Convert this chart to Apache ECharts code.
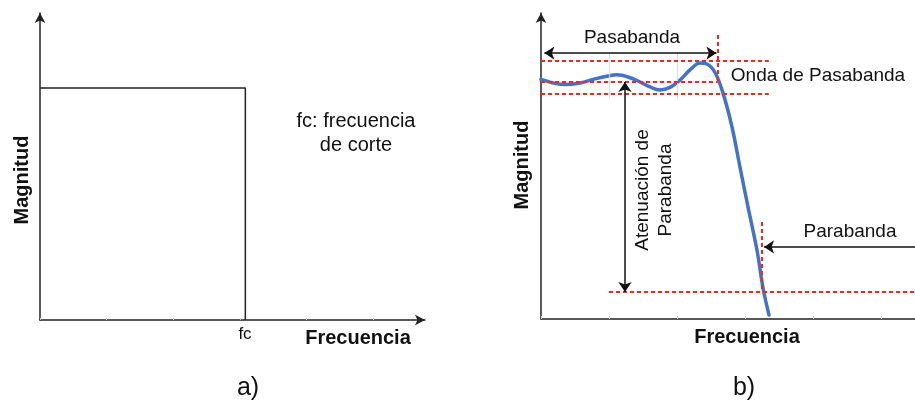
<!DOCTYPE html>
<html>
<head>
<meta charset="utf-8">
<script src="https://cdn.jsdelivr.net/npm/echarts@6/dist/echarts.min.js"></script>
<style>
html,body{margin:0;padding:0;background:#fff;}
#chart{width:915px;height:404px;}
</style>
</head>
<body>
<div id="chart"></div>
<script>
// ---- Panel a) ideal low-pass filter ----
const idealFreq = [0, 3.08, 3.08];
const idealMag  = [1, 1, 0];

// ---- Panel b) real low-pass filter response ----
const realFreq = [0, 0.206, 0.353, 0.574, 0.794, 0.985, 1.118, 1.279, 1.456, 1.603, 1.750, 1.897, 2.044, 2.191, 2.338, 2.44, 2.559, 2.676, 2.809, 2.926, 3.044, 3.176, 3.265, 3.353];
const realMag  = [1.011, 0.994, 0.989, 0.996, 1.013, 1.025, 1.030, 1.021, 1.000, 0.979, 0.966, 0.977, 1.008, 1.051, 1.080, 1.076, 1.040, 0.954, 0.810, 0.641, 0.473, 0.291, 0.131, 0.017];

// reference levels / edges (data units)
const rippleTop = 1.089, rippleMid = 1.0, rippleBottom = 0.949;
const stopLevel = 0.114;
const passEdge = 2.60, stopEdge = 3.25;
const rippleEnd = 3.35, stopLineStart = 1.0;
const passArrowY = 1.122, stopArrowY = 0.304, attenX = 1.235;
const faintGridX = [1, 2];

const chart = echarts.init(document.getElementById('chart'));
const red = '#ff1f1f';
const dashed = {color: red, width: 2, type: [4, 3]};
const black = {color: '#111', width: 1.5, type: 'solid'};
const axisLineStyle = {color: '#222', width: 1.5};

function seg(x1, y1, x2, y2, style, s1, s2) {
  return [
    {coord: [x1, y1], symbol: s1 || 'none', symbolSize: 10, lineStyle: style},
    {coord: [x2, y2], symbol: s2 || 'none', symbolSize: 10}
  ];
}

const font = 'Liberation Sans, Arial, sans-serif';
function txt(x, y, text, size, bold, rot) {
  return {
    type: 'text', x: x, y: y, rotation: rot || 0, silent: true,
    style: {
      text: text, fill: '#111',
      font: (bold ? 'bold ' : '') + size + 'px ' + font,
      textAlign: 'center', textVerticalAlign: 'middle', lineHeight: size + 4
    }
  };
}

const option = {
  animation: false,
  backgroundColor: '#fff',
  grid: [
    {left: 40, top: 13, width: 385, height: 307, containLabel: false},
    {left: 541, top: 13, right: 0, height: 306, containLabel: false}
  ],
  xAxis: [
    {gridIndex: 0, type: 'value', min: 0, max: 5.775, interval: 1,
     axisLine: {show: true, lineStyle: axisLineStyle, symbol: ['none', 'arrow'], symbolSize: [8, 10]},
     axisTick: {show: true, inside: true, length: 2, lineStyle: {color: '#ccc'}},
     axisLabel: {show: false}, splitLine: {show: false}},
    {gridIndex: 1, type: 'value', min: 0, max: 5.5, interval: 1,
     axisLine: {show: true, lineStyle: axisLineStyle},
     axisTick: {show: true, inside: true, length: 3, lineStyle: {color: '#ccc'}},
     axisLabel: {show: false}, splitLine: {show: false}}
  ],
  yAxis: [
    {gridIndex: 0, type: 'value', min: 0, max: 1.323,
     axisLine: {show: true, lineStyle: axisLineStyle, symbol: ['none', 'arrow'], symbolSize: [8, 10]},
     axisTick: {show: false}, axisLabel: {show: false}, splitLine: {show: false}},
    {gridIndex: 1, type: 'value', min: 0, max: 1.291,
     axisLine: {show: true, lineStyle: axisLineStyle, symbol: ['none', 'arrow'], symbolSize: [8, 10]},
     axisTick: {show: false}, axisLabel: {show: false}, splitLine: {show: false}}
  ],
  series: [
    {
      type: 'line', xAxisIndex: 0, yAxisIndex: 0,
      data: idealFreq.map((f, i) => [f, idealMag[i]]),
      symbol: 'none', lineStyle: {color: '#222', width: 1.5}, z: 3
    },
    {
      type: 'line', xAxisIndex: 1, yAxisIndex: 1,
      data: realFreq.map((f, i) => [f, realMag[i]]),
      symbol: 'none', smooth: 0.35,
      lineStyle: {color: '#4472C4', width: 3.5, cap: 'round', join: 'round'}, z: 4,
      markLine: {
        silent: true, animation: false, label: {show: false},
        symbol: ['none', 'none'],
        data: [
          ...faintGridX.map(x => seg(x, 0.93, x, passArrowY, {color: '#ddd', width: 1, type: 'solid'})),
          seg(0, rippleTop, rippleEnd, rippleTop, dashed),
          seg(0, rippleMid, passEdge, rippleMid, dashed),
          seg(0, rippleBottom, rippleEnd, rippleBottom, dashed),
          seg(passEdge, 1.198, passEdge, rippleMid, dashed),
          seg(stopLineStart, stopLevel, 5.5, stopLevel, dashed),
          seg(stopEdge, 0.409, stopEdge, stopLevel, dashed),
          seg(0.05, passArrowY, passEdge - 0.02, passArrowY, black, 'arrow', 'arrow'),
          seg(attenX, rippleMid, attenX, stopLevel, black, 'arrow', 'arrow'),
          seg(5.5, stopArrowY, stopEdge + 0.03, stopArrowY, black, 'none', 'arrow')
        ]
      }
    }
  ],
  graphic: [
    txt(22, 180, 'Magnitud', 20, true, Math.PI / 2),
    txt(358, 338, 'Frecuencia', 20, true),
    txt(245, 334, 'fc', 17, false),
    txt(356, 133, 'fc: frecuencia\nde corte', 20, false),
    txt(248, 388, 'a)', 25, false),
    txt(522, 165, 'Magnitud', 20, true, Math.PI / 2),
    txt(747, 337, 'Frecuencia', 20, true),
    txt(632, 38, 'Pasabanda', 19, false),
    txt(818, 76, 'Onda de Pasabanda', 19, false),
    txt(850, 232, 'Parabanda', 19, false),
    txt(654, 190, 'Atenuación de\nParabanda', 19, false, Math.PI / 2),
    txt(744, 388, 'b)', 25, false)
  ]
};
chart.setOption(option);
</script>
</body>
</html>
